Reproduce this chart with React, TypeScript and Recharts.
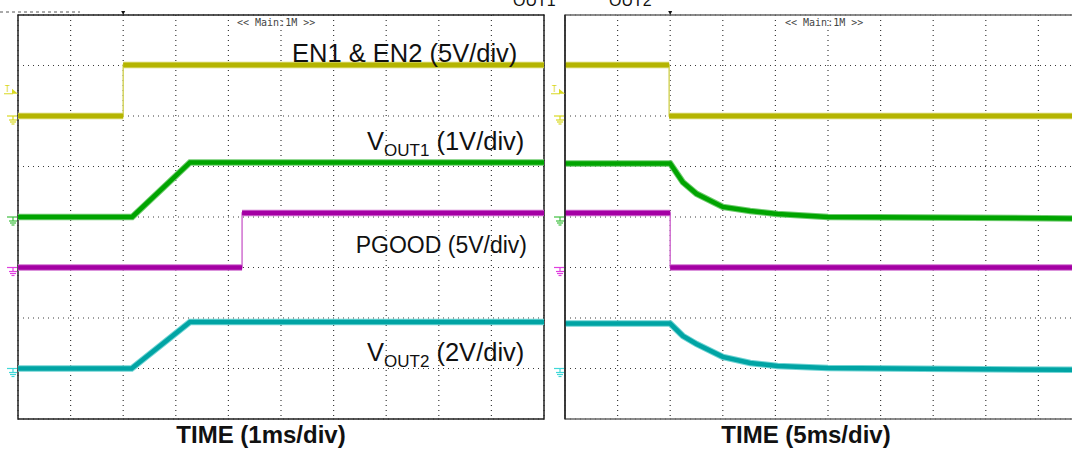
import React from "react";
import {
  LineChart,
  Line,
  XAxis,
  YAxis,
  CartesianGrid,
  ReferenceArea,
  ReferenceLine,
  ReferenceDot,
} from "recharts";

// Scope channels: volts per division and ground level (divisions from bottom)
const enScale = 5;
const enGround = 6;
const vout1Scale = 1;
const vout1Ground = 4;
const pgoodScale = 5;
const pgoodGround = 3;
const vout2Scale = 2;
const vout2Ground = 1;
const triggerLevel = 2.3; // volts on EN

// Turn-on capture, time in ms (1 ms/div)
const onTicks = [0, 1, 2, 3, 4, 5, 6, 7, 8, 9, 10];
const onEnT = [0, 2.0, 2.0, 10];
const onEnV = [0, 0, 5.05, 5.05];
const onVout1T = [0, 2.17, 3.27, 10];
const onVout1V = [0, 0, 1.08, 1.08];
const onPgoodT = [0, 4.26, 4.26, 10];
const onPgoodV = [0, 0, 5.4, 5.4];
const onVout2T = [0, 2.16, 3.27, 10];
const onVout2V = [0, 0, 1.84, 1.84];

// Turn-off capture, time in ms (5 ms/div)
const offTicks = [0, 5, 10, 15, 20, 25, 30, 35, 40, 45, 50];
const offEnT = [0, 9.9, 9.9, 50];
const offEnV = [5.05, 5.05, 0, 0];
const offVout1T = [0, 10, 11.2, 12.5, 15, 17.6, 20.2, 25, 50];
const offVout1V = [1.06, 1.06, 0.69, 0.46, 0.2, 0.12, 0.06, 0.0, -0.03];
const offPgoodT = [0, 10, 10, 50];
const offPgoodV = [5.4, 5.4, 0, 0];
const offVout2T = [0, 10, 11.2, 12.5, 15, 17.6, 20.2, 25, 50];
const offVout2V = [1.78, 1.78, 1.29, 0.97, 0.46, 0.22, 0.1, 0.02, -0.06];

const divTicks = [0, 1, 2, 3, 4, 5, 6, 7, 8];

type Pt = { t: number; y: number | null };

function toDivs(ts: number[], vs: number[], scale: number, ground: number): Pt[] {
  return ts.map((t, i) => ({ t, y: ground + vs[i] / scale }));
}

// break the thick band at vertical edges so only a thin line is drawn there
function withGaps(pts: Pt[]): Pt[] {
  const out: Pt[] = [];
  pts.forEach((p, i) => {
    if (i > 0 && pts[i - 1].t === p.t) out.push({ t: p.t, y: null });
    out.push(p);
  });
  return out;
}

const channels = [
  { name: "en", core: "#b4b400", halo: "#d4d460", mark: "#d8d820", scale: enScale, ground: enGround },
  { name: "vout1", core: "#00a400", halo: "#70cc70", mark: "#40c040", scale: vout1Scale, ground: vout1Ground },
  { name: "pgood", core: "#a400a4", halo: "#d070d0", mark: "#e040e0", scale: pgoodScale, ground: pgoodGround },
  { name: "vout2", core: "#00a4a4", halo: "#70d4d4", mark: "#40d8d8", scale: vout2Scale, ground: vout2Ground },
];

const FONT = "'Liberation Sans', Arial, sans-serif";

function GroundMark(props: any) {
  const { cx, cy, color } = props;
  if (cx == null || cy == null) return null;
  const x = cx - 5;
  return (
    <g stroke={color} strokeWidth={1.2} fill="none">
      <line x1={cx - 11} x2={cx - 1} y1={cy} y2={cy} />
      <line x1={x} x2={x} y1={cy} y2={cy + 4} />
      <line x1={x - 4} x2={x + 4} y1={cy + 4} y2={cy + 4} />
      <line x1={x - 3} x2={x + 3} y1={cy + 6} y2={cy + 6} />
      <line x1={x - 1.5} x2={x + 1.5} y1={cy + 8} y2={cy + 8} />
    </g>
  );
}

function TrigMark(props: any) {
  const { cx, cy } = props;
  if (cx == null || cy == null) return null;
  return (
    <g>
      <text x={cx - 13} y={cy - 0.5} fontSize={8} fill="#d8d820" fontFamily="DejaVu Sans Mono">
        T
      </text>
      <line x1={cx - 14} x2={cx - 5} y1={cy + 1} y2={cy + 1} stroke="#d8d820" strokeWidth={1} />
      <polygon points={`${cx - 6},${cy - 4} ${cx},${cy + 1} ${cx - 6},${cy + 1}`} fill="#d8d820" />
    </g>
  );
}

function TopMark(props: any) {
  const { cx, cy } = props;
  if (cx == null || cy == null) return null;
  return <polygon points={`${cx - 2},${cy - 4} ${cx + 2},${cy - 4} ${cx},${cy}`} fill="#111" />;
}

interface PanelProps {
  left: number;
  ticks: number[];
  traces: { t: number[]; v: number[] }[];
  trigT: number;
  rightFrame: boolean;
}

function Panel({ left, ticks, traces, trigT, rightFrame }: PanelProps) {
  const max = ticks[ticks.length - 1];
  return (
    <div style={{ position: "absolute", left, top: 0 }}>
      <LineChart width={562} height={452} margin={{ top: 15, right: 18, bottom: 33, left: 18 }}>
        <XAxis type="number" dataKey="t" domain={[0, max]} ticks={ticks} hide allowDuplicatedCategory={false} />
        <YAxis type="number" domain={[0, 8]} ticks={divTicks} hide />
        <CartesianGrid stroke="#3a3a3a" strokeDasharray="1 4" strokeWidth={1.2} />
        {traces.map((tr, i) => {
          const ch = channels[i];
          const pts = toDivs(tr.t, tr.v, ch.scale, ch.ground);
          const band = withGaps(pts);
          return [
            <Line key={ch.name + "thin"} data={pts} dataKey="y" type="linear" stroke={ch.halo} strokeWidth={1.5} dot={false} isAnimationActive={false} />,
            <Line key={ch.name + "halo"} data={band} dataKey="y" type="linear" stroke={ch.halo} strokeWidth={6.5} dot={false} isAnimationActive={false} />,
            <Line key={ch.name + "core"} data={band} dataKey="y" type="linear" stroke={ch.core} strokeWidth={4.5} dot={false} isAnimationActive={false} />,
          ];
        })}
        <ReferenceArea x1={0} x2={max} y1={0} y2={8} fill="none" stroke={rightFrame ? "#222" : "#666"} strokeWidth={1.5} ifOverflow="visible" />
        {!rightFrame && <ReferenceLine x={0} stroke="#222" strokeWidth={1.5} ifOverflow="visible" />}
        {channels.map((ch) => (
          <ReferenceDot key={ch.name + "gnd"} x={0} y={ch.ground} r={0} ifOverflow="visible" shape={(p: any) => <GroundMark {...p} color={ch.mark} />} />
        ))}
        <ReferenceDot x={0} y={enGround + triggerLevel / enScale} r={0} ifOverflow="visible" shape={TrigMark} />
        <ReferenceDot x={trigT} y={8} r={0} ifOverflow="visible" shape={TopMark} />
      </LineChart>
    </div>
  );
}

function VLabel({ x, y, sub, rest }: { x: number; y: number; sub: string; rest: string }) {
  return (
    <text x={x} y={y} fontSize={25.5} fontFamily={FONT} fill="#111">
      V
      <tspan fontSize={17} dy={6}>
        {sub}
      </tspan>
      <tspan dy={-6}>{rest}</tspan>
    </text>
  );
}

export default function App() {
  return (
    <div style={{ position: "absolute", left: 0, top: 0, width: 1072, height: 452, overflow: "hidden", background: "#fff" }}>
      <Panel
        left={0}
        ticks={onTicks}
        trigT={2}
        rightFrame
        traces={[
          { t: onEnT, v: onEnV },
          { t: onVout1T, v: onVout1V },
          { t: onPgoodT, v: onPgoodV },
          { t: onVout2T, v: onVout2V },
        ]}
      />
      <Panel
        left={547}
        ticks={offTicks}
        trigT={10}
        rightFrame={false}
        traces={[
          { t: offEnT, v: offEnV },
          { t: offVout1T, v: offVout1V },
          { t: offPgoodT, v: offPgoodV },
          { t: offVout2T, v: offVout2V },
        ]}
      />
      <svg width={1072} height={452} style={{ position: "absolute", left: 0, top: 0, pointerEvents: "none" }}>
        <line x1={0} x2={80} y1={12} y2={12} stroke="#555" strokeDasharray="3 3" />
        <text x={237} y={26} fontSize={10} fontFamily="'DejaVu Sans Mono', monospace" fill="#444">
          {"<< Main:1M >>"}
        </text>
        <text x={785} y={26} fontSize={10} fontFamily="'DejaVu Sans Mono', monospace" fill="#444">
          {"<< Main:1M >>"}
        </text>
        <text x={513} y={6} fontSize={16} fontFamily={FONT} fill="#111">
          OUT1
        </text>
        <text x={609} y={6} fontSize={16} fontFamily={FONT} fill="#111">
          OUT2
        </text>
        <text x={292} y={62} fontSize={25.5} fontFamily={FONT} fill="#111">
          EN1 &amp; EN2 (5V/div)
        </text>
        <VLabel x={367} y={150} sub="OUT1" rest=" (1V/div)" />
        <text x={527} y={253} fontSize={23} fontFamily={FONT} fill="#111" textAnchor="end">
          PGOOD (5V/div)
        </text>
        <VLabel x={367} y={361} sub="OUT2" rest=" (2V/div)" />
        <text x={261} y={443} fontSize={24} fontWeight="bold" fontFamily={FONT} fill="#111" textAnchor="middle">
          TIME (1ms/div)
        </text>
        <text x={806} y={443} fontSize={24} fontWeight="bold" fontFamily={FONT} fill="#111" textAnchor="middle">
          TIME (5ms/div)
        </text>
      </svg>
    </div>
  );
}
